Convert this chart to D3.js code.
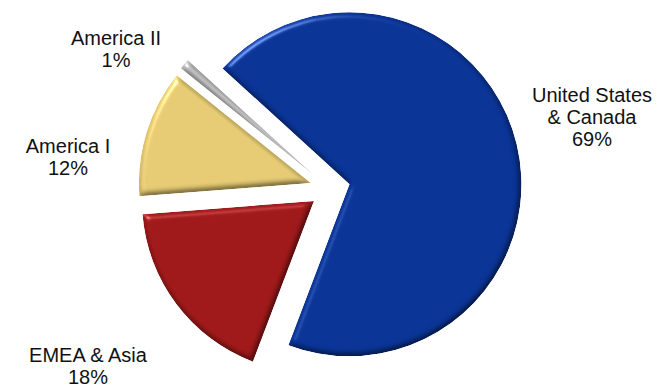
<!DOCTYPE html>
<html>
<head>
<meta charset="utf-8">
<script src="https://cdn.jsdelivr.net/npm/d3@7"></script>
<style>
  html, body { margin: 0; padding: 0; background: #fff; }
  svg { display: block; }
  text { font-family: "Liberation Sans", Arial, sans-serif; font-size: 20px; fill: #111; }
</style>
</head>
<body>
<svg id="chart" width="669" height="388"></svg>
<script>
// Revenue share by region
const categories = ["United States & Canada", "EMEA & Asia", "America I", "America II"];
const shares = [69, 18, 12, 1];
const labelLines = [["United States", "& Canada", "69%"], ["EMEA & Asia", "18%"], ["America I", "12%"], ["America II", "1%"]];

const colors = ["#0A3496", "#A0191A", "#E6CB74", "#BEBEBE"];

// layout
const W = 669, H = 388;
const cx = 330, cy = 189, R = 172, explode = 20;
const startDeg = -47.6;
const labelPos = [[592, 102], [88, 362], [68, 153], [116, 45]];
const lineGap = 22;

const svg = d3.select("#chart");

// bevel: diffuse shading on edges plus a specular highlight
const defs = svg.append("defs");
const f = defs.append("filter").attr("id", "bevel")
  .attr("x", "-10%").attr("y", "-10%").attr("width", "120%").attr("height", "120%")
  .attr("color-interpolation-filters", "sRGB");
f.append("feGaussianBlur").attr("in", "SourceAlpha").attr("stdDeviation", 3).attr("result", "blur");
const dif = f.append("feDiffuseLighting").attr("in", "blur").attr("surfaceScale", 3.5)
  .attr("diffuseConstant", 1.064).attr("lighting-color", "#fff").attr("result", "dif");
dif.append("feDistantLight").attr("azimuth", 235).attr("elevation", 70);
const spec = f.append("feSpecularLighting").attr("in", "blur").attr("surfaceScale", 4)
  .attr("specularConstant", 0.8).attr("specularExponent", 40).attr("lighting-color", "#fff").attr("result", "spec");
spec.append("feDistantLight").attr("azimuth", 235).attr("elevation", 35);
f.append("feComposite").attr("in", "SourceGraphic").attr("in2", "dif")
  .attr("operator", "arithmetic").attr("k1", 1).attr("k2", 0).attr("k3", 0).attr("k4", 0).attr("result", "shaded");
f.append("feComposite").attr("in", "spec").attr("in2", "SourceAlpha").attr("operator", "in").attr("result", "specIn");
f.append("feComposite").attr("in", "shaded").attr("in2", "specIn")
  .attr("operator", "arithmetic").attr("k1", 0).attr("k2", 1).attr("k3", 0.5).attr("k4", 0).attr("result", "lit");
f.append("feComposite").attr("in", "lit").attr("in2", "SourceAlpha").attr("operator", "in");

const a0 = startDeg * Math.PI / 180;
const pie = d3.pie().sort(null).value(d => d.v).startAngle(a0).endAngle(a0 + 2 * Math.PI);
const arcs = pie(categories.map((c, i) => ({ c, v: shares[i], i })));
const arc = d3.arc().innerRadius(0).outerRadius(R);

const g = svg.append("g").attr("transform", `translate(${cx},${cy})`);
g.selectAll("path.slice").data(arcs).join("path")
  .attr("class", "slice")
  .attr("d", arc)
  .attr("fill", d => colors[d.data.i])
  .attr("filter", "url(#bevel)")
  .attr("transform", d => {
    const m = (d.startAngle + d.endAngle) / 2;
    return `translate(${explode * Math.sin(m)},${-explode * Math.cos(m)})`;
  });

// category labels
const lab = svg.append("g").selectAll("text").data(arcs).join("text")
  .attr("text-anchor", "middle")
  .attr("x", d => labelPos[d.data.i][0])
  .attr("y", d => labelPos[d.data.i][1]);
lab.selectAll("tspan").data(d => labelLines[d.data.i].map((t, k) => ({ t, k, x: labelPos[d.data.i][0] })))
  .join("tspan")
  .attr("x", d => d.x)
  .attr("dy", d => d.k === 0 ? 0 : lineGap)
  .text(d => d.t);
</script>
</body>
</html>
